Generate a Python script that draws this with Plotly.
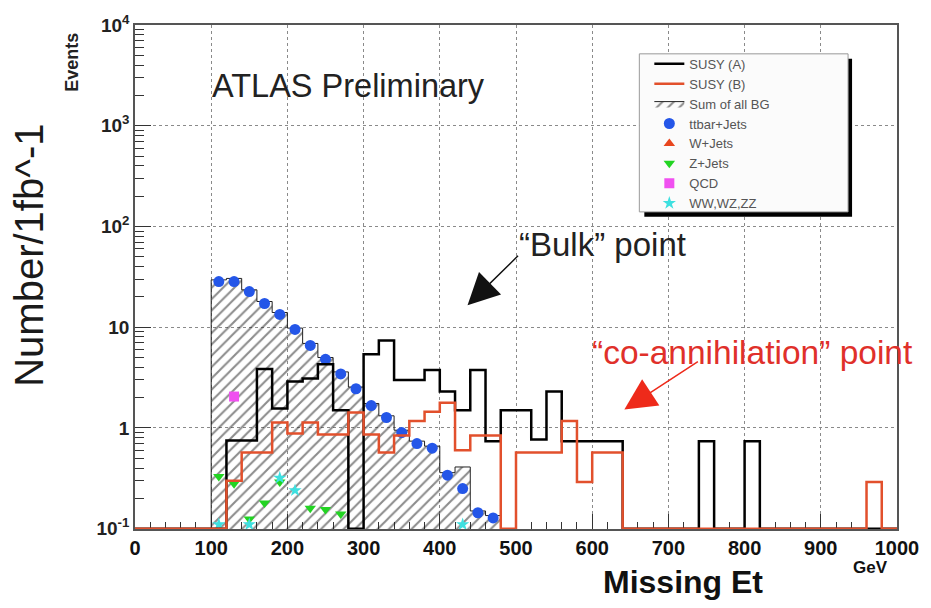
import plotly.graph_objects as go

# ---------------------------------------------------------------- data
bin_edges = list(range(0, 1001, 20))          # 20 GeV bins, 0 - 1000 GeV

# SUSY signal histograms, events / 1 fb^-1 per 20 GeV bin (0 = empty bin)
susy_a = [0, 0, 0, 0, 0, 0, 0.75, 0.75, 3.85, 1.56,
          2.9, 3.1, 4.3, 1.5, 0, 5.4, 7.4, 3.0, 3.0, 3.77,
          2.3, 1.5, 3.77, 0.74, 1.5, 1.5, 0.77, 2.3, 0.74, 0.74,
          0.74, 0.74, 0, 0, 0, 0, 0, 0.74, 0, 0,
          0.74, 0, 0, 0, 0, 0, 0, 0, 0, 0]
susy_b = [0, 0, 0, 0, 0, 0, 0.30, 0.57, 0.57, 1.13,
          0.88, 1.13, 0.86, 0.86, 1.42, 0.86, 0.57, 0.84, 1.17, 1.45,
          1.78, 0.60, 0.84, 0.84, 0, 0.57, 0.57, 0.57, 1.17, 0.29,
          0.57, 0.57, 0, 0, 0, 0, 0, 0, 0, 0,
          0, 0, 0, 0, 0, 0, 0, 0, 0.29, 0]

# Sum of all backgrounds (hatched histogram), 100 - 480 GeV
bg_edges = list(range(100, 481, 20))
bg_sum = [29.5, 30.5, 23.5, 18.0, 14.0, 9.8, 6.9, 5.0, 3.6, 2.55,
          1.75, 1.32, 0.95, 0.74, 0.66, 0.36, 0.41, 0.15, 0.135]

# Individual background components (bin centres)
ttbar_x = [110, 130, 150, 170, 190, 210, 230, 250, 270, 290,
           310, 330, 350, 370, 390, 410, 430, 450, 470]
ttbar_y = [28.4, 28.4, 22.6, 17.2, 13.4, 9.5, 6.6, 4.8, 3.44, 2.45,
           1.67, 1.27, 0.90, 0.70, 0.63, 0.34, 0.25, 0.144, 0.128]
wjets_x = [350]
wjets_y = [0.90]
zjets_x = [110, 130, 150, 170, 190, 230, 250, 270]
zjets_y = [0.33, 0.28, 0.125, 0.18, 0.29, 0.16, 0.155, 0.14]
qcd_x = [130]
qcd_y = [2.05]
diboson_x = [110, 150, 190, 210, 430]
diboson_y = [0.11, 0.11, 0.32, 0.24, 0.11]

y_ticks = [0.1, 1, 10, 100, 1000, 10000]
y_ticktext = ["10<sup>-1</sup>", "1", "10", "10<sup>2</sup>", "10<sup>3</sup>", "10<sup>4</sup>"]
x_ticks = list(range(0, 1001, 100))

# ---------------------------------------------------------------- helpers
Y_FLOOR = 0.1          # empty bins are drawn on the lower edge of the frame
Y_HIDDEN = 1e-3        # below the frame: used to close the hatched area

W, H = 931, 608
ML, MR, MT, MB = 135, 33, 22, 79
PW, PH = W - ML - MR, H - MT - MB


def px(xp):
    return (xp - ML) / PW


def py(yp):
    return (H - MB - yp) / PH


def step(edges, values):
    ys = [v if v > 0 else Y_FLOOR for v in values]
    return edges, ys + [ys[-1]]


FONT = "Liberation Sans, Arial, sans-serif"
RED = "#e2502c"

fig = go.Figure()

# hatched background sum
bx = [bg_edges[0]] + bg_edges + [bg_edges[-1]]
by = [Y_HIDDEN] + bg_sum + [bg_sum[-1], Y_HIDDEN]
fig.add_trace(go.Scatter(
    x=bx, y=by, mode="lines", line=dict(color="#222", width=1, shape="hv"),
    fill="toself", fillcolor="rgba(0,0,0,0)",
    fillpattern=dict(shape="/", fgcolor="#1a1a1a", size=8, solidity=0.26),
    name="Sum of all BG", legendrank=3))

marker_line = dict(width=0)
fig.add_trace(go.Scatter(x=wjets_x, y=wjets_y, mode="markers", name="W+Jets",
                         marker=dict(symbol="triangle-up", size=10, color="#e8461e", line=marker_line),
                         legendrank=5))
fig.add_trace(go.Scatter(x=ttbar_x, y=ttbar_y, mode="markers", name="ttbar+Jets",
                         marker=dict(symbol="circle", size=11, color="#2456e8", line=marker_line),
                         legendrank=4))
fig.add_trace(go.Scatter(x=zjets_x, y=zjets_y, mode="markers", name="Z+Jets",
                         marker=dict(symbol="triangle-down", size=10, color="#22d422", line=marker_line),
                         legendrank=6))
fig.add_trace(go.Scatter(x=qcd_x, y=qcd_y, mode="markers", name="QCD",
                         marker=dict(symbol="square", size=10, color="#f050f0", line=marker_line),
                         legendrank=7))
fig.add_trace(go.Scatter(x=diboson_x, y=diboson_y, mode="markers", name="WW,WZ,ZZ",
                         marker=dict(symbol="star", size=10, color="#3ee0e0", line=marker_line),
                         legendrank=8))

ax_, ay_ = step(bin_edges, susy_a)
fig.add_trace(go.Scatter(x=ax_, y=ay_, mode="lines", name="SUSY (A)",
                         line=dict(color="#000", width=2.5, shape="hv"), legendrank=1))
bx_, by_ = step(bin_edges, susy_b)
fig.add_trace(go.Scatter(x=bx_, y=by_, mode="lines", name="SUSY (B)",
                         line=dict(color=RED, width=2.5, shape="hv"), legendrank=2))

# ---------------------------------------------------------------- layout
axis_common = dict(showline=True, linecolor="#555", linewidth=1.5, mirror=True,
                   ticks="inside", tickcolor="#333", showgrid=True, gridcolor="#8a8a8a",
                   griddash="dot", gridwidth=1, zeroline=False, layer="below traces")

fig.update_layout(
    width=W, height=H,
    margin=dict(l=ML, r=MR, t=MT, b=MB),
    plot_bgcolor="white", paper_bgcolor="white",
    font=dict(family=FONT, color="#222"),
    showlegend=True,
    legend=dict(x=px(650), y=py(46), xanchor="left", yanchor="top",
                bgcolor="rgba(0,0,0,0)", borderwidth=0,
                font=dict(family=FONT, size=13, color="#555"), tracegroupgap=0),
    xaxis=dict(range=[0, 1000], tickmode="array", tickvals=x_ticks, ticklen=15,
               tickfont=dict(size=20, weight="bold", color="#111"),
               minor=dict(dtick=20, tick0=0, ticks="inside", ticklen=7, tickcolor="#333", showgrid=False),
               **axis_common),
    yaxis=dict(type="log", range=[-1.003, 4], tickmode="array", tickvals=y_ticks,
               ticktext=y_ticktext, ticklen=16,
               tickfont=dict(size=19, weight="bold", color="#222"),
               minor=dict(tickmode="array",
                          tickvals=[m * 10 ** e for e in range(-1, 4) for m in range(2, 10)],
                          ticks="inside", ticklen=9, tickcolor="#333", showgrid=False),
               **axis_common),
)

# legend frame with drop shadow
fig.add_shape(type="rect", xref="paper", yref="paper", layer="above",
              x0=px(645), x1=px(853), y0=py(215), y1=py(56),
              fillcolor="black", line=dict(width=0))
fig.add_shape(type="rect", xref="paper", yref="paper", layer="above",
              x0=px(640), x1=px(849), y0=py(210), y1=py(51),
              fillcolor="#fbfbfb", line=dict(color="#999", width=1))

# axis titles and labels
fig.add_annotation(text="Number/1fb^-1", xref="paper", yref="paper", x=px(28), y=py(254),
                   textangle=-90, showarrow=False, xanchor="center", yanchor="middle",
                   font=dict(size=40, color="#1a1a1a"))
fig.add_annotation(text="Events", xref="paper", yref="paper", x=px(72), y=py(60),
                   textangle=-90, showarrow=False, xanchor="center", yanchor="middle",
                   font=dict(size=18, color="#222", weight="bold"))
fig.add_annotation(text="Missing Et", xref="paper", yref="paper", x=px(684), y=py(582),
                   showarrow=False, xanchor="center", yanchor="middle",
                   font=dict(size=32, color="#111", weight="bold"))
fig.add_annotation(text="GeV", xref="paper", yref="paper", x=px(871), y=py(568),
                   showarrow=False, xanchor="center", yanchor="middle",
                   font=dict(size=17, color="#111", weight="bold"))

fig.add_annotation(text="ATLAS Preliminary", xref="paper", yref="paper", x=px(210), y=py(83),
                   showarrow=False, xanchor="left", yanchor="middle",
                   font=dict(size=32.5, color="#222"))
fig.add_annotation(text="\u201cBulk\u201d point", xref="paper", yref="paper", x=px(518), y=py(243),
                   showarrow=False, xanchor="left", yanchor="middle",
                   font=dict(size=33, color="#222"))
fig.add_annotation(text="\u201cco-annihilation\u201d point", xref="paper", yref="paper",
                   x=px(591), y=py(351), showarrow=False, xanchor="left", yanchor="middle",
                   font=dict(size=33.5, color="#e0302a"))

# arrows pointing at the two signal histograms
fig.add_annotation(x=436.4, y=1.217, xref="x", yref="y", text="", showarrow=True,
                   ax=52, ay=-51, arrowhead=2, arrowsize=4.2, arrowwidth=1.5, arrowcolor="#111")
fig.add_annotation(x=642.2, y=0.182, xref="x", yref="y", text="", showarrow=True,
                   ax=75, ay=-49, arrowhead=2, arrowsize=4.2, arrowwidth=1.5, arrowcolor="#ee2a1a")

fig.write_html("out.html")
